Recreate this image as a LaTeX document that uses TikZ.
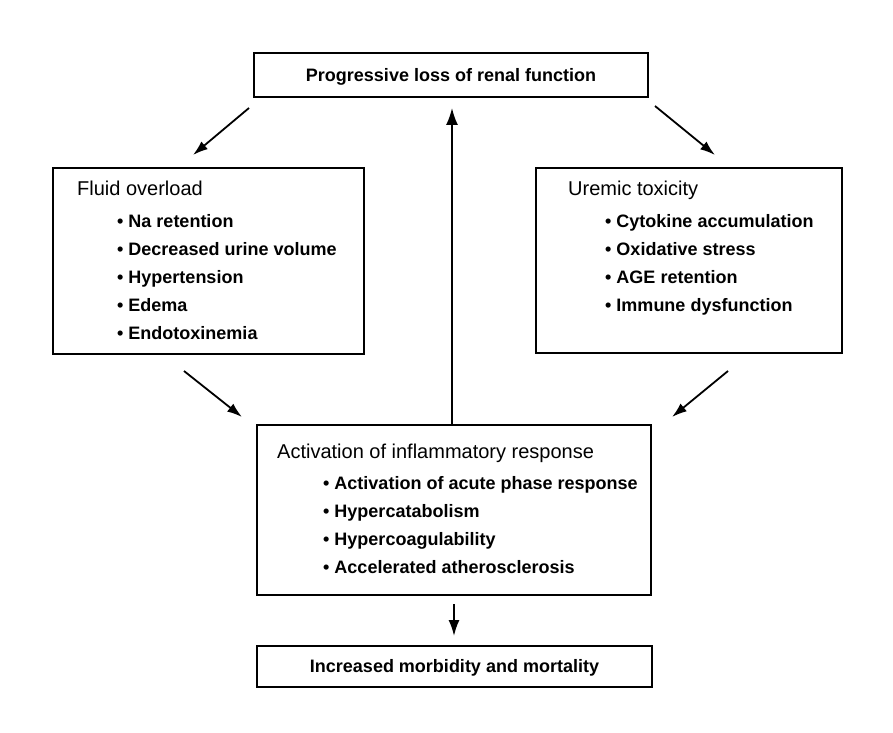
\documentclass[tikz,border=0pt]{standalone}
\usepackage{fontspec}
\setmainfont{Liberation Sans}
\usetikzlibrary{positioning,arrows.meta}
\newcommand{\itm}[2][40bp]{\hspace*{#1}\textbullet\ #2}
\newcommand{\hd}[1]{{\mdseries\fontsize{20bp}{28bp}\selectfont #1}}
\begin{document}
\begin{tikzpicture}[x=1bp,y=-1bp,
  box/.style={draw, line width=2bp, inner sep=0pt},
  title/.style={font=\bfseries\fontsize{18bp}{22bp}\selectfont, text depth=1bp},
  list/.style={align=left, inner sep=0pt, font=\bfseries\fontsize{18bp}{28bp}\selectfont},
  arr/.style={line width=1.8bp, -{Latex[length=15bp,width=10bp]}}]
\useasboundingbox (0,0) rectangle (893,733);
\node[box, title, minimum width=394bp, minimum height=44bp] (loss) at (451,75) {Progressive loss of renal function};
\node[box, minimum width=311bp, minimum height=186bp] (fluid) at (208.5,261) {};
\node[box, minimum width=306bp, minimum height=185bp] (uremic) at (689,260.5) {};
\node[box, minimum width=394bp, minimum height=170bp] (inflam) at (454,510) {};
\node[box, title, minimum width=395bp, minimum height=41bp] (outcome) at (454.5,666.5) {Increased morbidity and mortality};
\node[list, below right=14bp and 25bp of fluid.north west] (fluidtxt) {\hd{Fluid overload}\\[4bp]
  \itm{Na retention}\\ \itm{Decreased urine volume}\\ \itm{Hypertension}\\ \itm{Edema}\\ \itm{Endotoxinemia}};
\node[list, below right=14bp and 33bp of uremic.north west] (uremictxt) {\hd{Uremic toxicity}\\[4bp]
  \itm[37bp]{Cytokine accumulation}\\ \itm[37bp]{Oxidative stress}\\ \itm[37bp]{AGE retention}\\ \itm[37bp]{Immune dysfunction}};
\node[list, below right=20bp and 21bp of inflam.north west] (inflamtxt) {\hd{Activation of inflammatory response}\\[3bp]
  \itm[46bp]{Activation of acute phase response}\\ \itm[46bp]{Hypercatabolism}\\ \itm[46bp]{Hypercoagulability}\\ \itm[46bp]{Accelerated atherosclerosis}};
\coordinate (lossL) at (249,108);
\coordinate (fluidIn) at (193,155);
\coordinate (lossR) at (655,106);
\coordinate (uremicIn) at (715,155);
\coordinate (fluidOut) at (184,371);
\coordinate (inflamL) at (242,417);
\coordinate (uremicOut) at (728,371);
\coordinate (inflamR) at (672,417);
\coordinate (lossIn) at (452,108);
\coordinate (inflamOut) at (454,604);
\coordinate (outcomeIn) at (454,636);
\draw[arr] (lossL) -- (fluidIn);
\draw[arr] (lossR) -- (uremicIn);
\draw[arr] (fluidOut) -- (inflamL);
\draw[arr] (uremicOut) -- (inflamR);
\draw[arr, -{Latex[length=17bp,width=12bp]}] (inflam.north -| lossIn) -- (lossIn);
\draw[arr, -{Latex[length=16bp,width=11bp]}] (inflamOut) -- (outcomeIn);
\end{tikzpicture}
\end{document}
